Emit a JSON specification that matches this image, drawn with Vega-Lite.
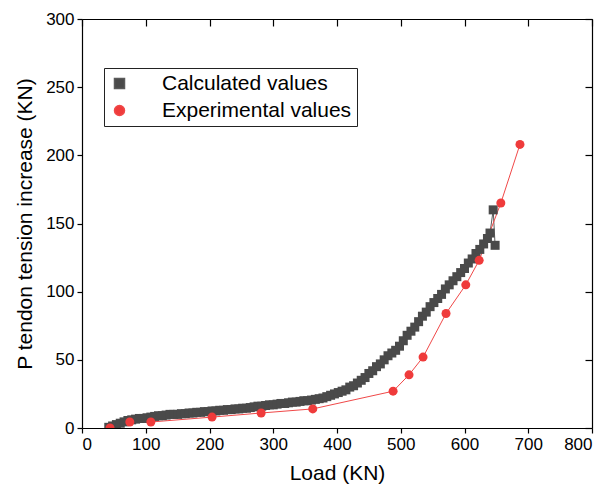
{
  "$schema": "https://vega.github.io/schema/vega-lite/v6.json",
  "width": 510,
  "height": 409,
  "autosize": {"type": "none"},
  "padding": {"left": 82, "top": 19, "right": 23, "bottom": 70},
  "background": "white",
  "config": {
    "view": {"stroke": null},
    "font": "Liberation Sans",
    "axis": {"grid": false, "domainColor": "black", "domainWidth": 1.2, "tickColor": "black", "tickWidth": 1.2, "labelColor": "black", "titleColor": "black", "labelFont": "Liberation Sans", "titleFont": "Liberation Sans", "labelFontSize": 17, "titleFontSize": 21, "titleFontWeight": "normal"}
  },
  "data": {"values": [
    {"s":"Calculated values","load":42,"p":0.5},{"s":"Calculated values","load":48,"p":1.5},{"s":"Calculated values","load":54,"p":2.5},{"s":"Calculated values","load":60,"p":3.5},{"s":"Calculated values","load":66,"p":4.5},{"s":"Calculated values","load":72,"p":5.5},{"s":"Calculated values","load":78,"p":6},{"s":"Calculated values","load":84,"p":6.5},{"s":"Calculated values","load":90,"p":7},{"s":"Calculated values","load":96,"p":7},
    {"s":"Calculated values","load":102,"p":7.5},{"s":"Calculated values","load":108,"p":8},{"s":"Calculated values","load":114,"p":8.5},{"s":"Calculated values","load":120,"p":9},{"s":"Calculated values","load":126,"p":9},{"s":"Calculated values","load":132,"p":9.5},{"s":"Calculated values","load":138,"p":10},{"s":"Calculated values","load":144,"p":10},{"s":"Calculated values","load":150,"p":10},{"s":"Calculated values","load":156,"p":10.5},
    {"s":"Calculated values","load":162,"p":10.5},{"s":"Calculated values","load":168,"p":11},{"s":"Calculated values","load":174,"p":11},{"s":"Calculated values","load":180,"p":11.5},{"s":"Calculated values","load":186,"p":11.5},{"s":"Calculated values","load":192,"p":12},{"s":"Calculated values","load":198,"p":12},{"s":"Calculated values","load":204,"p":12.5},{"s":"Calculated values","load":210,"p":12.5},{"s":"Calculated values","load":216,"p":13},
    {"s":"Calculated values","load":222,"p":13},{"s":"Calculated values","load":228,"p":13.5},{"s":"Calculated values","load":234,"p":13.5},{"s":"Calculated values","load":240,"p":14},{"s":"Calculated values","load":246,"p":14},{"s":"Calculated values","load":252,"p":14.5},{"s":"Calculated values","load":258,"p":14.5},{"s":"Calculated values","load":264,"p":15},{"s":"Calculated values","load":270,"p":15.5},{"s":"Calculated values","load":276,"p":16},
    {"s":"Calculated values","load":282,"p":16},{"s":"Calculated values","load":288,"p":16.5},{"s":"Calculated values","load":294,"p":17},{"s":"Calculated values","load":300,"p":17},{"s":"Calculated values","load":306,"p":17.5},{"s":"Calculated values","load":312,"p":18},{"s":"Calculated values","load":318,"p":18},{"s":"Calculated values","load":324,"p":18.5},{"s":"Calculated values","load":330,"p":19},{"s":"Calculated values","load":336,"p":19},
    {"s":"Calculated values","load":342,"p":19.5},{"s":"Calculated values","load":348,"p":20},{"s":"Calculated values","load":354,"p":20},{"s":"Calculated values","load":360,"p":20.5},{"s":"Calculated values","load":366,"p":21},{"s":"Calculated values","load":372,"p":21.5},{"s":"Calculated values","load":378,"p":22},{"s":"Calculated values","load":384,"p":23},{"s":"Calculated values","load":390,"p":24},{"s":"Calculated values","load":396,"p":25},
    {"s":"Calculated values","load":402,"p":26},{"s":"Calculated values","load":408,"p":27},{"s":"Calculated values","load":414,"p":28},{"s":"Calculated values","load":420,"p":30},{"s":"Calculated values","load":426,"p":31},{"s":"Calculated values","load":432,"p":33},{"s":"Calculated values","load":438,"p":35},{"s":"Calculated values","load":444,"p":37},{"s":"Calculated values","load":450,"p":40},{"s":"Calculated values","load":456,"p":42},
    {"s":"Calculated values","load":462,"p":45},{"s":"Calculated values","load":468,"p":47},{"s":"Calculated values","load":474,"p":50},{"s":"Calculated values","load":480,"p":53},{"s":"Calculated values","load":486,"p":55},{"s":"Calculated values","load":492,"p":57},{"s":"Calculated values","load":498,"p":60},{"s":"Calculated values","load":504,"p":64},{"s":"Calculated values","load":510,"p":68},{"s":"Calculated values","load":516,"p":71},
    {"s":"Calculated values","load":522,"p":74},{"s":"Calculated values","load":528,"p":78},{"s":"Calculated values","load":534,"p":82},{"s":"Calculated values","load":540,"p":85},{"s":"Calculated values","load":546,"p":89},{"s":"Calculated values","load":552,"p":92},{"s":"Calculated values","load":558,"p":95},{"s":"Calculated values","load":564,"p":98},{"s":"Calculated values","load":570,"p":102},{"s":"Calculated values","load":576,"p":105},
    {"s":"Calculated values","load":582,"p":108},{"s":"Calculated values","load":588,"p":111},{"s":"Calculated values","load":594,"p":114},{"s":"Calculated values","load":600,"p":117},{"s":"Calculated values","load":606,"p":121},{"s":"Calculated values","load":612,"p":124},{"s":"Calculated values","load":618,"p":128},{"s":"Calculated values","load":624,"p":131},{"s":"Calculated values","load":630,"p":135},{"s":"Calculated values","load":636,"p":139},
    {"s":"Calculated values","load":640,"p":143},{"s":"Calculated values","load":645,"p":160},{"s":"Calculated values","load":648,"p":134},
    {"s":"Experimental values","load":44,"p":0},{"s":"Experimental values","load":75,"p":4.4},{"s":"Experimental values","load":108,"p":4.4},{"s":"Experimental values","load":204,"p":8},{"s":"Experimental values","load":281,"p":11},{"s":"Experimental values","load":362,"p":14},{"s":"Experimental values","load":488,"p":27},{"s":"Experimental values","load":513,"p":39},{"s":"Experimental values","load":535,"p":52},{"s":"Experimental values","load":571,"p":84},{"s":"Experimental values","load":602,"p":105},{"s":"Experimental values","load":623,"p":123},{"s":"Experimental values","load":657,"p":165},{"s":"Experimental values","load":687,"p":208}
  ]},
  "resolve": {"axis": {"x": "independent", "y": "independent"}},
  "layer": [
    {
      "mark": {"type": "line", "strokeWidth": 1, "clip": true},
      "encoding": {
        "x": {"field": "load", "type": "quantitative", "scale": {"domain": [0, 800], "nice": false, "zero": false}, "axis": {"title": "Load (KN)", "values": [0,100,200,300,400,500,600,700,800], "tickSize": 5, "labelPadding": 3, "titlePadding": 10}},
        "y": {"field": "p", "type": "quantitative", "scale": {"domain": [0, 300], "nice": false, "zero": false}, "axis": {"title": "P tendon tension increase (KN)", "values": [0,50,100,150,200,250,300], "tickSize": 5, "labelPadding": 3, "titlePadding": 10}},
        "stroke": {"field": "s", "type": "nominal", "title": null, "scale": {"domain": ["Calculated values", "Experimental values"], "range": ["#5a5a5a", "#f04848"]}}
      }
    },
    {
      "mark": {"type": "point", "filled": true, "opacity": 1, "size": 81, "clip": true},
      "encoding": {
        "x": {"field": "load", "type": "quantitative", "axis": {"orient": "top", "title": null, "labels": false, "values": [0,100,200,300,400,500,600,700,800], "tickSize": -7}},
        "y": {"field": "p", "type": "quantitative", "axis": {"orient": "right", "title": null, "labels": false, "values": [0,50,100,150,200,250,300], "tickSize": -7}},
        "fill": {"field": "s", "type": "nominal", "title": null, "scale": {"domain": ["Calculated values", "Experimental values"], "range": ["#4a4a4a", "#ef3b3b"]},
          "legend": {"title": null, "orient": "none", "legendX": 22, "legendY": 49, "labelFontSize": 21, "labelFont": "Liberation Sans", "labelColor": "black", "labelLimit": 400, "labelOffset": 32, "padding": 5, "rowPadding": 5, "strokeColor": "#222", "symbolSize": 100}},
        "shape": {"field": "s", "type": "nominal", "title": null, "scale": {"domain": ["Calculated values", "Experimental values"], "range": ["square", "circle"]}}
      }
    }
  ]
}
